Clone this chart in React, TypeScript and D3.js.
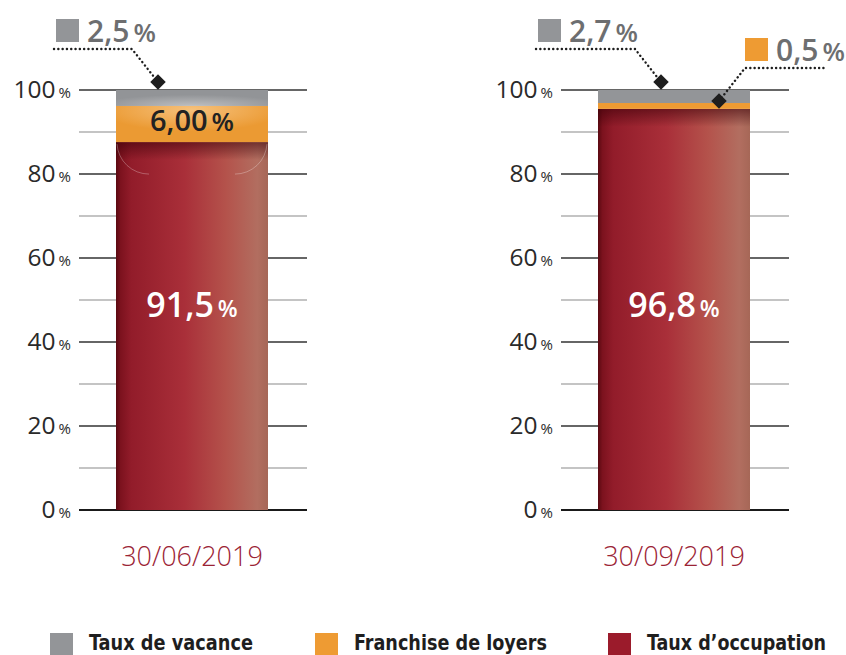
import React from "react";
import * as d3 from "d3";

const categories = ["30/06/2019", "30/09/2019"];
// segment heights as drawn in the picture (percent of axis)
const occupationDrawn = [87.6, 95.5];
const franchiseDrawn = [8.6, 1.4];
const vacanceDrawn = [3.8, 3.1];
// printed labels
const occupationLabel = ["91,5", "96,8"];
const franchiseLabel = ["6,00", "0,5"];
const vacanceLabel = ["2,5", "2,7"];
const yTicks = [0, 20, 40, 60, 80, 100];
const yMinor = [10, 30, 50, 70, 90];
const legendItems = ["Taux de vacance", "Franchise de loyers", "Taux d\u2019occupation"];
const legendColors = ["#939598", "#ee9b33", "#9b1b2b"];

const FONT = "'Open Sans', 'Noto Sans', sans-serif";

export default function App() {
  const W = 846, H = 655;
  const y = d3.scaleLinear().domain([0, 100]).range([510, 90]);
  const panel = d3.scaleBand<string>().domain(categories).range([0, 964]);
  const barX0 = 116, barW = 152;
  const gridX0 = 79, gridX1 = 307;

  const dots = { stroke: "#1e1e1e", strokeWidth: 2.4, strokeDasharray: "0.1 4.2", strokeLinecap: "round" as const, fill: "none" };

  return (
    <svg width={W} height={H} style={{ position: "absolute", left: 0, top: 0, fontFamily: FONT }}>
      <defs>
        <linearGradient id="redH" x1="0" x2="1" y1="0" y2="0">
          <stop offset="0" stopColor="#5a0911" />
          <stop offset="0.03" stopColor="#7c121e" />
          <stop offset="0.1" stopColor="#921c2a" />
          <stop offset="0.45" stopColor="#a92f39" />
          <stop offset="0.72" stopColor="#b4524b" />
          <stop offset="0.93" stopColor="#b26e60" />
          <stop offset="1" stopColor="#a66757" />
        </linearGradient>
        <linearGradient id="redTop" x1="0" x2="0" y1="0" y2="1">
          <stop offset="0" stopColor="#3a0008" stopOpacity="0.55" />
          <stop offset="1" stopColor="#3a0008" stopOpacity="0" />
        </linearGradient>
        <radialGradient id="grayG" cx="0.5" cy="0.9" r="0.6" fx="0.5" fy="1">
          <stop offset="0" stopColor="#bdbec0" />
          <stop offset="1" stopColor="#929497" />
        </radialGradient>
        <radialGradient id="orangeG" cx="0.5" cy="0.1" r="0.6">
          <stop offset="0" stopColor="#f6c17c" />
          <stop offset="1" stopColor="#eb9a33" />
        </radialGradient>
      </defs>

      {categories.map((c, i) => {
        const ox = panel(c)!;
        const bx = ox + barX0;
        const cx = bx + barW / 2;
        const yOccTop = y(occupationDrawn[i]);
        const yFrTop = y(occupationDrawn[i] + franchiseDrawn[i]);
        const yVacTop = y(occupationDrawn[i] + franchiseDrawn[i] + vacanceDrawn[i]);
        return (
          <g key={c}>
            {yMinor.map((t) => (
              <line key={"m" + t} x1={ox + gridX0} x2={ox + gridX1} y1={y(t)} y2={y(t)} stroke="#8a8a8a" strokeWidth={1.2} />
            ))}
            {yTicks.map((t) => (
              <g key={"t" + t}>
                <line x1={ox + gridX0} x2={ox + gridX1} y1={y(t)} y2={y(t)} stroke={t === 0 ? "#1a1a1a" : "#333"} strokeWidth={t === 0 ? 2.2 : 1.6} />
                <text x={ox + 71} y={y(t) + 8} textAnchor="end" fill="#2a2a2a">
                  <tspan fontSize={24.5}>{t}</tspan>
                  <tspan fontSize={15} dx={3}>%</tspan>
                </text>
              </g>
            ))}
            {/* bar segments */}
            <rect x={bx} y={yOccTop} width={barW} height={y(0) - yOccTop} fill="url(#redH)" />
            <rect x={bx} y={yOccTop} width={barW} height={18} fill="url(#redTop)" />
            <rect x={bx} y={yFrTop} width={barW} height={yOccTop - yFrTop} fill={i === 0 ? "url(#orangeG)" : "#ee9b33"} />
            <rect x={bx} y={yVacTop} width={barW} height={yFrTop - yVacTop} fill={i === 0 ? "url(#grayG)" : "#939598"} />
            {i === 0 && (
              <g fill="none" stroke="#ffffff" strokeOpacity={0.35} strokeWidth={0.8}>
                <path d={`M${bx + 1},${yOccTop + 2} A32,32 0 0 0 ${bx + 33},${yOccTop + 32}`} />
                <path d={`M${bx + barW - 1},${yOccTop + 2} A32,32 0 0 1 ${bx + barW - 33},${yOccTop + 32}`} />
              </g>
            )}
            {/* inner labels */}
            <text x={cx} y={317} textAnchor="middle" fill="#ffffff" fontWeight={600}>
              <tspan fontSize={34}>{occupationLabel[i]}</tspan>
              <tspan fontSize={23} dx={4}>%</tspan>
            </text>
            {i === 0 && (
              <text x={cx} y={y(occupationDrawn[i]) - 11} textAnchor="middle" fill="#222" fontWeight={600}>
                <tspan fontSize={29}>{franchiseLabel[i]}</tspan>
                <tspan fontSize={26} dx={4}>%</tspan>
              </text>
            )}
            {/* vacancy callout */}
            {(() => {
              const dx = i === 0 ? 42 : 63;
              const px = bx + dx, py = yVacTop - 8;
              const sx = ox + 56;
              return (
                <g>
                  <rect x={sx} y={19} width={23} height={23} fill="#939598" />
                  <text x={sx + 31} y={42} fill="#6d6e70" fontWeight={600}>
                    <tspan fontSize={30}>{vacanceLabel[i]}</tspan>
                    <tspan fontSize={26} dx={4}>%</tspan>
                  </text>
                  <path d={`M${ox + 54},49 L${px - 26},49 L${px},${py}`} {...dots} />
                  <rect x={px - 5.5} y={py - 5.5} width={11} height={11} fill="#1e1e1e" transform={`rotate(45 ${px} ${py})`} />
                </g>
              );
            })()}
            {i === 1 && (() => {
              const px = bx + 121, py = yFrTop - 2;
              return (
                <g>
                  <rect x={745} y={38} width={23} height={23} fill="#ee9b33" />
                  <text x={776} y={61} fill="#6d6e70" fontWeight={600}>
                    <tspan fontSize={30}>{franchiseLabel[i]}</tspan>
                    <tspan fontSize={26} dx={4}>%</tspan>
                  </text>
                  <path d={`M${px},${py} L${px + 26},68 L825,68`} {...dots} />
                  <rect x={px - 5.5} y={py - 5.5} width={11} height={11} fill="#1e1e1e" transform={`rotate(45 ${px} ${py})`} />
                </g>
              );
            })()}
            {/* category */}
            <text x={cx} y={566} textAnchor="middle" fontSize={27} fontWeight={300} fill="#9b2335">{c}</text>
          </g>
        );
      })}

      {/* legend */}
      {legendItems.map((l, i) => {
        const sx = [50, 315, 608][i];
        const tw = [164, 193, 179][i];
        return (
          <g key={l}>
            <rect x={sx} y={633} width={23} height={23} fill={legendColors[i]} />
            <text x={sx + 39} y={650} fontFamily="'DejaVu Sans Condensed', 'Liberation Sans Narrow', sans-serif" fontWeight="bold" fontSize={21} fill="#1e1e1e" textLength={tw} lengthAdjust="spacingAndGlyphs">{l}</text>
          </g>
        );
      })}
    </svg>
  );
}
